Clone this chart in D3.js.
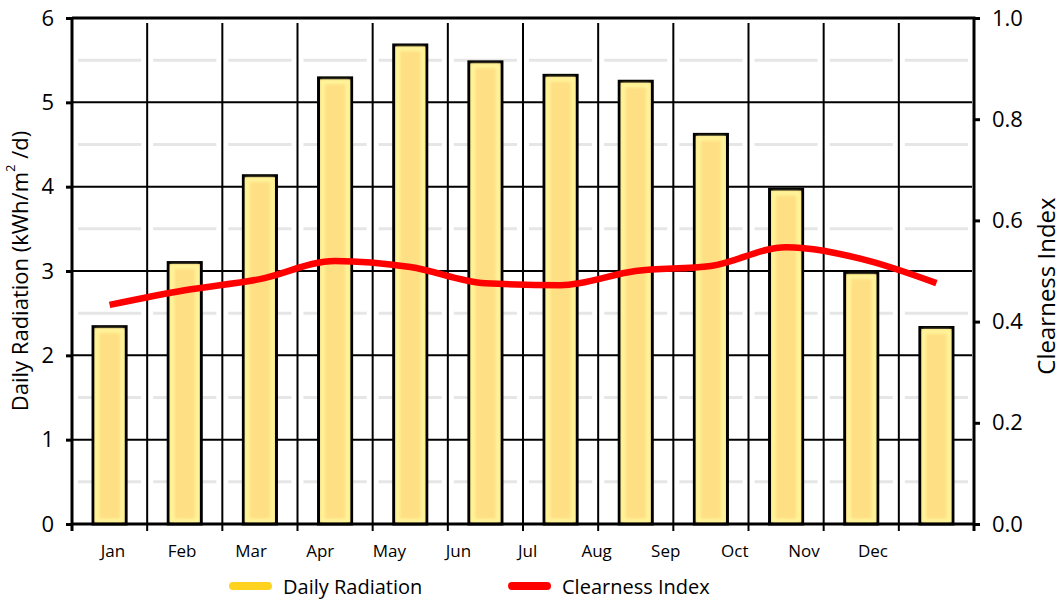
<!DOCTYPE html>
<html>
<head>
<meta charset="utf-8">
<script src="https://cdn.jsdelivr.net/npm/d3@7"></script>
<style>
  body { margin: 0; background: #fff; }
  svg { display: block; font-family: "Open Sans", Lato, sans-serif; }
</style>
</head>
<body>
<svg id="chart" width="1060" height="599"></svg>
<script>
// data
var months = ["Jan", "Feb", "Mar", "Apr", "May", "Jun", "Jul", "Aug", "Sep", "Oct", "Nov", "Dec"];
var radiation = [2.34, 3.10, 4.13, 5.29, 5.68, 5.48, 5.32, 5.25, 4.62, 3.97, 2.98, 2.33];
var clearness = [0.433, 0.462, 0.484, 0.520, 0.508, 0.476, 0.472, 0.500, 0.510, 0.547, 0.524, 0.476];
var radTicks = [0, 1, 2, 3, 4, 5, 6];
var ciTicks = [0, 0.2, 0.4, 0.6, 0.8, 1.0];
var halfTicks = [0.5, 1.5, 2.5, 3.5, 4.5, 5.5];

var pLeft = 72, pRight = 974, pTop = 18, pBottom = 524;

var svg = d3.select("#chart");

var x = d3.scaleBand().domain(months).range([pLeft, pRight]).paddingInner(0.56).paddingOuter(0.28);
var xLab = d3.scalePoint().domain(months).range([113, 873]);
var y = d3.scaleLinear().domain([0, 6]).range([pBottom, pTop]);
var y2 = d3.scaleLinear().domain([0, 1]).range([pBottom, pTop]);
var step = x.step();

// minor grid (light grey, broken at each category boundary)
svg.append("g").selectAll("line")
  .data(halfTicks)
  .enter().append("line")
    .attr("x1", pLeft).attr("x2", pRight)
    .attr("y1", function(d) { return y(d); })
    .attr("y2", function(d) { return y(d); })
    .attr("stroke", "#e6e6e6")
    .attr("stroke-width", 3)
    .attr("stroke-dasharray", (step - 12) + " 12")
    .attr("stroke-dashoffset", -6);

// major horizontal grid
svg.append("g").selectAll("line")
  .data(radTicks.slice(1, 6))
  .enter().append("line")
    .attr("x1", pLeft).attr("x2", pRight - 2)
    .attr("y1", function(d) { return y(d); })
    .attr("y2", function(d) { return y(d); })
    .attr("stroke", "#000")
    .attr("stroke-width", 2);

// vertical grid at category boundaries, also the bottom ticks
var bounds = months.map(function(m, i) { return pLeft + step * i; }).slice(1);
svg.append("g").selectAll("line")
  .data(bounds)
  .enter().append("line")
    .attr("x1", function(d) { return d; })
    .attr("x2", function(d) { return d; })
    .attr("y1", pTop + 5).attr("y2", pBottom + 7)
    .attr("stroke", "#000")
    .attr("stroke-width", 2);

// bars
var defs = svg.append("defs");
defs.append("filter").attr("id", "soft")
  .append("feGaussianBlur").attr("stdDeviation", 1.6);

var bars = svg.append("g").selectAll("g")
  .data(radiation)
  .enter().append("g");

bars.append("rect")
  .attr("x", function(d, i) { return x(months[i]); })
  .attr("y", function(d) { return y(d); })
  .attr("width", x.bandwidth())
  .attr("height", function(d) { return pBottom - y(d); })
  .attr("fill", "#ffdf84")
  .attr("stroke", "#000")
  .attr("stroke-width", 3);

bars.append("rect")
  .attr("x", function(d, i) { return x(months[i]) + 4; })
  .attr("y", function(d) { return y(d) + 4; })
  .attr("width", x.bandwidth() - 8)
  .attr("height", function(d) { return pBottom - y(d) - 7; })
  .attr("fill", "none")
  .attr("stroke", "#fff79c")
  .attr("stroke-width", 4)
  .attr("filter", "url(#soft)");

// clearness index line
var line = d3.line()
  .x(function(d, i) { return x(months[i]) + x.bandwidth() / 2; })
  .y(function(d) { return y2(d); })
  .curve(d3.curveMonotoneX);

svg.append("path")
  .datum(clearness)
  .attr("d", line)
  .attr("fill", "none")
  .attr("stroke", "#ff0000")
  .attr("stroke-width", 6.5)
  .attr("stroke-linejoin", "round");

// axes
var yAxis = svg.append("g")
  .attr("transform", "translate(" + pLeft + ",0)")
  .call(d3.axisLeft(y).tickValues(radTicks).tickSize(6).tickPadding(12).tickFormat(d3.format("d")));
var y2Axis = svg.append("g")
  .attr("transform", "translate(" + pRight + ",0)")
  .call(d3.axisRight(y2).tickValues(ciTicks).tickSize(6).tickPadding(12).tickFormat(d3.format(".1f")));

[yAxis, y2Axis].forEach(function(a) {
  a.select(".domain").remove();
  a.selectAll(".tick line").attr("stroke", "#000").attr("stroke-width", 3);
  a.selectAll(".tick text").attr("fill", "#000").style("font-size", "22px").style("font-family", "'Open Sans', sans-serif");
});

// frame: left, bottom, right, top
svg.append("path")
  .attr("d", "M" + pLeft + "," + pTop + "V" + pBottom + "H" + pRight + "V" + pTop + "H" + pLeft)
  .attr("fill", "none")
  .attr("stroke", "#000")
  .attr("stroke-width", 3);

// bottom end ticks
svg.append("g").selectAll("line")
  .data([pLeft, pRight])
  .enter().append("line")
    .attr("x1", function(d) { return d; }).attr("x2", function(d) { return d; })
    .attr("y1", pBottom).attr("y2", pBottom + 7)
    .attr("stroke", "#000").attr("stroke-width", 3);

// month labels (they drift off the bars in the original)
svg.append("g").selectAll("text")
  .data(months)
  .enter().append("text")
    .attr("x", function(d) { return xLab(d); })
    .attr("y", 550)
    .attr("text-anchor", "middle")
    .attr("dominant-baseline", "central")
    .style("font-size", "17px")
    .text(function(d) { return d; });

// axis titles
var t1 = svg.append("text")
  .attr("transform", "translate(19,271) rotate(-90)")
  .attr("text-anchor", "middle")
  .attr("dominant-baseline", "central")
  .style("font-size", "22px");
t1.append("tspan").text("Daily Radiation (kWh/m");
t1.append("tspan").attr("dy", -9).style("font-size", "13px").text("2");
t1.append("tspan").attr("dy", 9).text(" /d)");

svg.append("text")
  .attr("transform", "translate(1045,286) rotate(-90)")
  .attr("text-anchor", "middle")
  .attr("dominant-baseline", "central")
  .style("font-size", "24px")
  .text("Clearness Index");

// legend
var legend = [
  { name: "Daily Radiation", color: "#ffd21f", x: 230 },
  { name: "Clearness Index", color: "#ff0000", x: 509 }
];
var lg = svg.append("g").selectAll("g")
  .data(legend)
  .enter().append("g")
    .attr("transform", function(d) { return "translate(" + d.x + ",586)"; });
lg.append("line")
  .attr("x1", 3).attr("x2", 38)
  .attr("stroke", function(d) { return d.color; })
  .attr("stroke-width", 8)
  .attr("stroke-linecap", "round");
lg.append("text")
  .attr("x", 53)
  .attr("dominant-baseline", "central")
  .style("font-size", "20px")
  .text(function(d) { return d.name; });
</script>
</body>
</html>
